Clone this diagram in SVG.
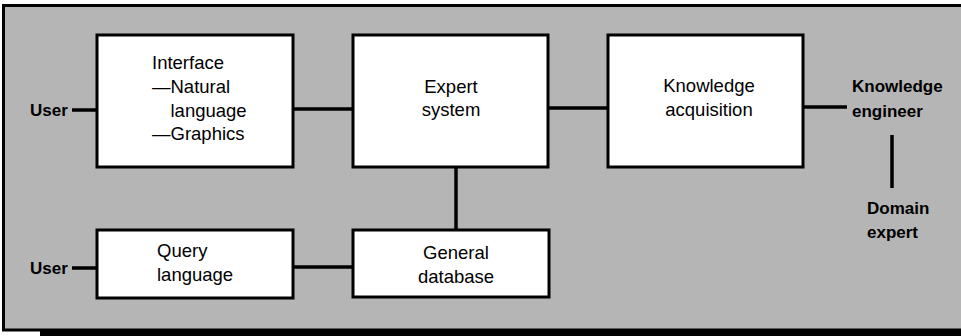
<svg xmlns="http://www.w3.org/2000/svg" width="961" height="336" viewBox="0 0 961 336">
<style>
.box{fill:#fff;stroke:#000;stroke-width:3}
.ln{stroke:#000;stroke-width:3.5;fill:none}
.t{font-family:"Liberation Sans",Arial,sans-serif;font-size:18.5px;fill:#000}
.b{font-family:"Liberation Sans",Arial,sans-serif;font-size:17px;font-weight:bold;fill:#000}
.m{text-anchor:middle}
</style>
<rect x="0" y="0" width="961" height="336" fill="#fff"/>
<rect x="4" y="5" width="957" height="325" fill="#b5b5b5"/>
<g id="frame">
<line x1="4" y1="5.5" x2="961" y2="5.5" stroke="#000" stroke-width="3"/>
<line x1="3.5" y1="4" x2="3.5" y2="331" stroke="#000" stroke-width="3"/>
<line x1="2" y1="330" x2="961" y2="330" stroke="#000" stroke-width="3"/>
<rect x="40" y="330" width="921" height="6" fill="#000"/>
</g>
<g id="connectors">
<line class="ln" x1="72" y1="110" x2="97" y2="110"/>
<line class="ln" x1="293" y1="109" x2="353" y2="109"/>
<line class="ln" x1="548" y1="108" x2="608" y2="108"/>
<line class="ln" x1="803" y1="107" x2="847" y2="107"/>
<line class="ln" x1="456" y1="167" x2="456" y2="230"/>
<line class="ln" x1="892" y1="135" x2="892" y2="188"/>
<line class="ln" x1="72" y1="268" x2="97" y2="268"/>
<line class="ln" x1="293" y1="267" x2="353" y2="267"/>
</g>
<g id="user1"><text class="b" x="30" y="116">User</text></g>
<g id="user2"><text class="b" x="30" y="274">User</text></g>
<g id="interface">
<rect class="box" x="97" y="35" width="196" height="132"/>
<text class="t" x="152" y="69">Interface</text>
<text class="t" x="152" y="93">—Natural</text>
<text class="t" x="170.5" y="117">language</text>
<text class="t" x="152" y="140">—Graphics</text>
</g>
<g id="expert">
<rect class="box" x="353" y="35" width="195" height="132"/>
<text class="t m" x="451" y="93">Expert</text>
<text class="t m" x="451" y="116">system</text>
</g>
<g id="knowledge">
<rect class="box" x="608" y="35" width="195" height="132"/>
<text class="t m" x="709" y="92">Knowledge</text>
<text class="t m" x="709" y="116">acquisition</text>
</g>
<g id="engineer">
<text class="b" x="852" y="92">Knowledge</text>
<text class="b" x="852" y="117">engineer</text>
</g>
<g id="domain">
<text class="b" x="867" y="214">Domain</text>
<text class="b" x="867" y="238">expert</text>
</g>
<g id="query">
<rect class="box" x="97" y="230" width="196" height="68"/>
<text class="t" x="157" y="257">Query</text>
<text class="t" x="157" y="281">language</text>
</g>
<g id="database">
<rect class="box" x="353" y="230" width="196" height="67"/>
<text class="t m" x="456" y="259">General</text>
<text class="t m" x="456" y="283">database</text>
</g>
</svg>
